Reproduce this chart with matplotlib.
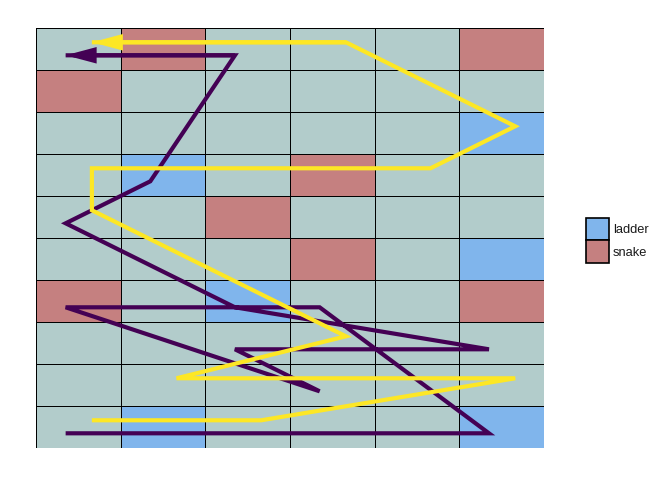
import numpy as np
import matplotlib
matplotlib.use("Agg")
import matplotlib.pyplot as plt
from matplotlib.colors import ListedColormap
from matplotlib.patches import Patch

# board size
n_cols = 6
n_rows = 10

# special cells (column, row), counted from bottom-left
ladder_cells = [(6, 8), (2, 7), (6, 5), (3, 4), (2, 1), (6, 1)]
snake_cells = [(2, 10), (6, 10), (1, 9), (4, 7), (3, 6), (4, 5), (1, 4), (6, 4)]

# players' paths through the board (cell column, cell row)
purple_x = [1, 6, 4, 1, 4, 3, 6, 3, 1, 2, 3, 1]
purple_y = [1, 1, 4, 4, 2, 3, 3, 4, 6, 7, 10, 10]
yellow_x = [1, 3, 6, 2, 4, 1, 1, 5, 6, 4, 1]
yellow_y = [1, 1, 2, 2, 3, 6, 7, 7, 8, 10, 10]

legend_labels = ["ladder", "snake"]

cell_colors = ["#B2CCCB", "#80B5EC", "#C58080"]
purple = "#440154"
yellow = "#FDE725"

plt.rcParams["font.family"] = ["Liberation Sans", "DejaVu Sans"]

fig = plt.figure(figsize=(6.72, 4.8), dpi=100)
ax = fig.add_axes([36 / 672, 32 / 480, 508 / 672, 420 / 480])

board = np.zeros((n_rows, n_cols))
for c, r in ladder_cells:
    board[r - 1, c - 1] = 1
for c, r in snake_cells:
    board[r - 1, c - 1] = 2

xe = np.arange(n_cols + 1) + 0.5
ye = np.arange(n_rows + 1) + 0.5
ax.pcolormesh(xe, ye, board, cmap=ListedColormap(cell_colors), vmin=-0.5, vmax=2.5,
              edgecolors="black", linewidth=0.6)


def draw_path(xs, ys, offset, color):
    xs = np.array(xs) + offset
    ys = np.array(ys) + offset
    ax.plot(xs, ys, color=color, lw=3, solid_joinstyle="miter", solid_capstyle="butt")
    ax.annotate("", xy=(xs[-1], ys[-1]), xytext=(xs[-2], ys[-2]),
                arrowprops=dict(arrowstyle="-|>,head_length=1.5,head_width=0.4",
                                color=color, lw=3, shrinkA=0, shrinkB=0,
                                joinstyle="miter", capstyle="butt"))


draw_path(purple_x, purple_y, -0.15, purple)
draw_path(yellow_x, yellow_y, 0.16, yellow)

ax.set_xlim(0.5, n_cols + 0.5)
ax.set_ylim(0.5, n_rows + 0.5)
ax.axis("off")

handles = [Patch(facecolor=cell_colors[1], edgecolor="black", linewidth=1.2),
           Patch(facecolor=cell_colors[2], edgecolor="black", linewidth=1.2)]
fig.legend(handles, legend_labels, loc="center left", bbox_to_anchor=(586 / 672, 0.499),
           frameon=False, fontsize=9.3, handlelength=1.8, handleheight=2.25,
           labelspacing=0.0, handletextpad=0.3, borderpad=0, borderaxespad=0,
           labelcolor="#1A1A1A")

fig.savefig("out.png", dpi=100)
